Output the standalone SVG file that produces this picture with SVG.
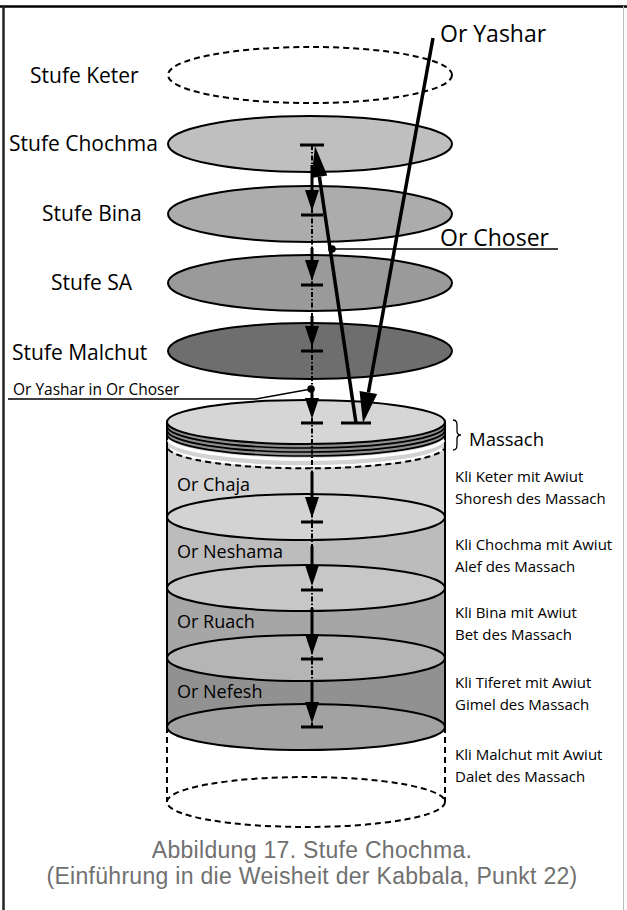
<svg xmlns="http://www.w3.org/2000/svg" width="627" height="910" viewBox="0 0 627 910">
<style>
  .t{font-family:"Open Sans","Liberation Sans",sans-serif;fill:#000}
  .big{font-size:21px}
  .or{font-size:23px}
  .cyl{font-size:18px}
  .kli{font-size:15px}
  .cap{font-family:"Liberation Sans",Arial,sans-serif;font-size:23px;letter-spacing:0.3px;fill:#707070;text-anchor:middle}
  .ol{stroke:#000;stroke-width:2}
  .dash{stroke:#000;stroke-width:2;stroke-dasharray:6 4;fill:none}
  .dd{stroke:#000;stroke-width:2;stroke-dasharray:5 2 1.5 2;fill:none}
  .sol{stroke:#000;stroke-width:3;fill:none}
  .tick{stroke:#000;stroke-width:3}
  .ray{stroke:#000;stroke-width:3.5;fill:none}
  .thin{stroke:#000;stroke-width:1.3;fill:none}
</style>
<defs>
  <path id="ah" d="M-7,-21 L7,-21 L0,0 Z" fill="#000"/>
</defs>
<rect x="0" y="0" width="627" height="910" fill="#fff"/>
<g id="frame">
  <line x1="0" y1="6.5" x2="627" y2="6.5" stroke="#000" stroke-width="2.5"/>
  <line x1="3.5" y1="6" x2="3.5" y2="910" stroke="#222" stroke-width="2.5"/>
  <line x1="623.5" y1="6" x2="623.5" y2="910" stroke="#bbb" stroke-width="1"/>
</g>

<g id="keter">
  <ellipse cx="310" cy="75" rx="142" ry="28" class="dash"/>
  <text class="t big" x="30" y="83">Stufe Keter</text>
</g>
<g id="chochma">
  <ellipse cx="310" cy="144" rx="142" ry="28" fill="#bfbfbf" class="ol"/>
  <text class="t big" x="9" y="151">Stufe Chochma</text>
</g>
<g id="bina">
  <ellipse cx="310" cy="214" rx="142" ry="28" fill="#acacac" class="ol"/>
  <text class="t big" x="42" y="221">Stufe Bina</text>
</g>
<g id="sa">
  <ellipse cx="310" cy="283" rx="142" ry="28" fill="#9a9a9a" class="ol"/>
  <text class="t big" x="51" y="290">Stufe SA</text>
</g>
<g id="malchut">
  <ellipse cx="310" cy="351" rx="142" ry="28" fill="#6e6e6e" class="ol"/>
  <text class="t big" x="12" y="360">Stufe Malchut</text>
</g>

<g id="cylinder">
  <path d="M167,658 L167,727 A139,23 0 0 0 445,727 L445,658 Z" fill="#919191"/>
  <ellipse cx="306" cy="727" rx="139" ry="23" fill="#a2a2a2" class="ol"/>
  <path d="M167,588 L167,658 A139,23 0 0 0 445,658 L445,588 Z" fill="#a6a6a6"/>
  <ellipse cx="306" cy="658" rx="139" ry="23" fill="#b5b5b5" class="ol"/>
  <path d="M167,517 L167,588 A139,23 0 0 0 445,588 L445,517 Z" fill="#bcbcbc"/>
  <ellipse cx="306" cy="588" rx="139" ry="23" fill="#c7c7c7" class="ol"/>
  <path d="M167,422 L167,517 A139,23 0 0 0 445,517 L445,422 Z" fill="#d3d3d3"/>
  <ellipse cx="306" cy="517" rx="139" ry="23" fill="#d3d3d3" class="ol"/>
  <path d="M170,449 A139,22 0 0 0 442,449" stroke="#fff" stroke-width="2.5" fill="none"/>
  <path d="M168,449 A139,22 0 0 0 444,449" class="dash"/>
  <line x1="167" y1="422" x2="167" y2="727" class="ol"/>
  <line x1="445" y1="422" x2="445" y2="727" class="ol"/>
  <line x1="167" y1="727" x2="167" y2="802" class="dash"/>
  <line x1="445" y1="727" x2="445" y2="802" class="dash"/>
  <ellipse cx="306" cy="802" rx="139" ry="25" class="dash"/>
  <text class="t cyl" x="177" y="491">Or Chaja</text>
  <text class="t cyl" x="177" y="558">Or Neshama</text>
  <text class="t cyl" x="177" y="628">Or Ruach</text>
  <text class="t cyl" x="177" y="698">Or Nefesh</text>
</g>

<g id="massach">
  <path d="M168,440 A139,22 0 0 0 444,440" stroke="#fff" stroke-width="3" fill="none"/>
  <ellipse cx="306" cy="434" rx="139" ry="22" fill="#8c8c8c" stroke="#000" stroke-width="1.7"/>
  <ellipse cx="306" cy="430" rx="139" ry="22" fill="#8c8c8c" stroke="#000" stroke-width="1.7"/>
  <ellipse cx="306" cy="426" rx="139" ry="22" fill="#8c8c8c" stroke="#000" stroke-width="1.7"/>
  <ellipse cx="306" cy="422" rx="139" ry="22" fill="#d6d6d6" class="ol"/>
  <path d="M453,420 C457,420 457,423 457,427 L457,431 C457,434 458,435 461,435 C458,435 457,436 457,439 L457,443 C457,447 457,450 453,450" class="thin"/>
  <text class="t" font-size="18.5" x="469" y="446">Massach</text>
</g>

<g id="kli-labels">
  <text class="t kli" x="455" y="482">Kli Keter mit Awiut</text>
  <text class="t kli" x="455" y="504">Shoresh des Massach</text>
  <text class="t kli" x="455" y="550">Kli Chochma mit Awiut</text>
  <text class="t kli" x="455" y="572">Alef des Massach</text>
  <text class="t kli" x="455" y="618">Kli Bina mit Awiut</text>
  <text class="t kli" x="455" y="640">Bet des Massach</text>
  <text class="t kli" x="455" y="688">Kli Tiferet mit Awiut</text>
  <text class="t kli" x="455" y="710">Gimel des Massach</text>
  <text class="t kli" x="455" y="760">Kli Malchut mit Awiut</text>
  <text class="t kli" x="455" y="782">Dalet des Massach</text>
</g>

<g id="connectors">
  <line x1="312" y1="145" x2="312" y2="727" class="dd"/>
  <line x1="312" y1="165" x2="312" y2="192" class="sol"/>
  <line x1="312" y1="248" x2="312" y2="262" class="sol"/>
  <line x1="312" y1="316" x2="312" y2="328" class="sol"/>
  <line x1="312" y1="392" x2="312" y2="400" class="sol"/>
  <line x1="312" y1="472" x2="312" y2="499" class="sol"/>
  <line x1="312" y1="546" x2="312" y2="567" class="sol"/>
  <line x1="312" y1="608" x2="312" y2="636" class="sol"/>
  <line x1="312" y1="682" x2="312" y2="704" class="sol"/>
  <use href="#ah" x="312" y="211"/>
  <use href="#ah" x="312" y="281"/>
  <use href="#ah" x="312" y="347"/>
  <use href="#ah" x="312" y="419"/>
  <use href="#ah" x="312" y="518"/>
  <use href="#ah" x="312" y="586"/>
  <use href="#ah" x="312" y="655"/>
  <use href="#ah" x="312" y="723"/>
  <line x1="300" y1="145" x2="324" y2="145" class="tick"/>
  <line x1="301" y1="215" x2="323" y2="215" class="tick"/>
  <line x1="301" y1="285" x2="323" y2="285" class="tick"/>
  <line x1="301" y1="351" x2="323" y2="351" class="tick"/>
  <line x1="301" y1="423" x2="323" y2="423" class="tick"/>
  <line x1="301" y1="522" x2="323" y2="522" class="tick"/>
  <line x1="301" y1="590" x2="323" y2="590" class="tick"/>
  <line x1="301" y1="659" x2="323" y2="659" class="tick"/>
  <line x1="301" y1="727" x2="323" y2="727" class="tick"/>
  <!-- Or Yashar ray -->
  <line x1="433" y1="38" x2="368.4" y2="392.5" class="ray"/>
  <path d="M377.2,394.1 L359.5,390.9 L363,423 Z" fill="#000"/>
  <!-- Or Choser ray -->
  <line x1="356" y1="423" x2="319.4" y2="176.7" class="ray"/>
  <path d="M327.3,175.5 L311.5,177.9 L315,146 Z" fill="#000"/>
  <line x1="341" y1="423" x2="371" y2="423" class="tick"/>
  <!-- pointers -->
  <circle cx="332" cy="249" r="3.8" fill="#000"/>
  <line x1="332" y1="249" x2="558" y2="249" stroke="#000" stroke-width="1.5"/>
  <circle cx="311" cy="389" r="3.8" fill="#000"/>
  <polyline points="8,399 256,399 311,389" class="thin"/>
</g>

<g id="ray-labels">
  <text class="t or" x="440" y="42">Or Yashar</text>
  <text class="t or" x="440" y="246">Or Choser</text>
  <text class="t" font-size="15.5" x="13" y="395">Or Yashar in Or Choser</text>
</g>

<g id="caption">
  <text class="cap" x="312" y="858">Abbildung 17. Stufe Chochma.</text>
  <text class="cap" x="312" y="884">(Einführung in die Weisheit der Kabbala, Punkt 22)</text>
</g>
</svg>
